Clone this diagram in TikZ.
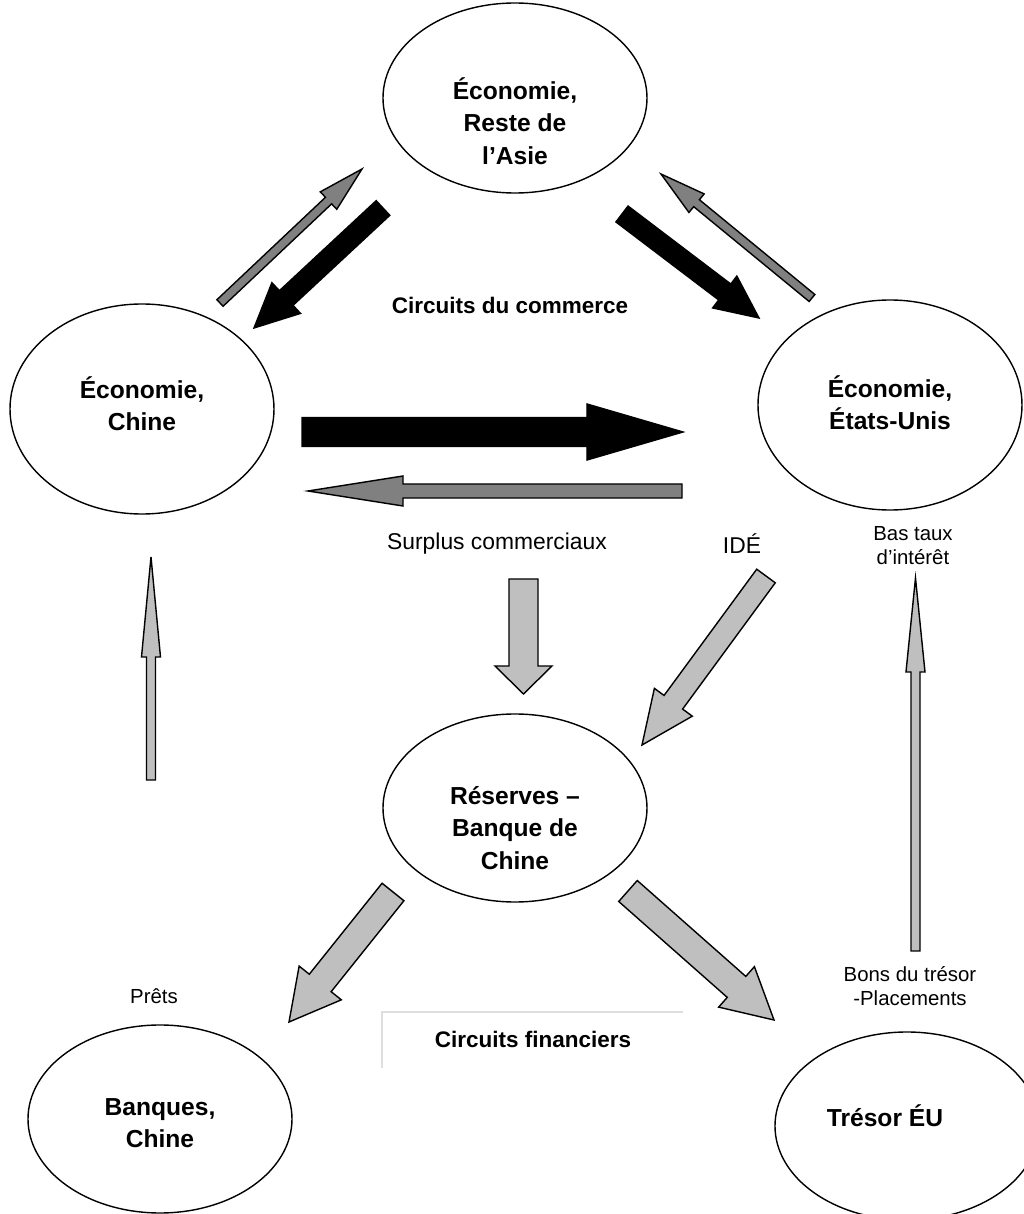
\documentclass[tikz,border=0pt]{standalone}
\usepackage{fontspec}
\setmainfont{Liberation Sans}
\usetikzlibrary{shapes.geometric,calc}

\newcommand{\blockarrow}[6][]{%
  \coordinate (hb) at ($(#3)!#6!(#2)$);
  \filldraw[#1] ($(#2)!#4!90:(#3)$) -- ($(hb)!#4!90:(#3)$) -- ($(hb)!#5!90:(#3)$) -- (#3)
    -- ($(hb)!#5!-90:(#3)$) -- ($(hb)!#4!-90:(#3)$) -- ($(#2)!#4!-90:(#3)$) -- cycle;
}

\begin{document}
\begin{tikzpicture}[
    eco/.style={ellipse, draw, line width=0.4pt, minimum width=2.64cm, minimum height=1.9cm},
    ecotext/.style={align=center, font=\fontsize{7}{9.2}\selectfont\bfseries},
    title/.style={font=\fontsize{6.4}{8}\selectfont\bfseries},
    note/.style={align=center, inner sep=0pt, font=\fontsize{5.8}{6.8}\selectfont},
    dark/.style={fill=black, draw=black, line width=0.4pt},
    mid/.style={fill=black!50, draw=black, line width=0.4pt},
    light/.style={fill=black!25, draw=black, line width=0.4pt},
    boxline/.style={draw=black!13, line width=0.4pt}]
    \useasboundingbox (0,0) rectangle (10.24,12.14);
    \clip (0,0) rectangle (10.24,12.14);

    \node[eco] (asie) at (5.15,11.16) {};
    \node[eco, minimum height=2.1cm] (chine) at (1.42,8.05) {};
    \node[eco, minimum height=2.1cm] (eu) at (8.90,8.09) {};
    \node[eco, minimum height=1.88cm] (reserves) at (5.15,4.06) {};
    \node[eco, minimum height=1.88cm] (banques) at (1.60,0.95) {};
    \node[eco, minimum height=1.88cm] (tresor) at (9.07,0.88) {};

    \node[ecotext] (asietext) at ([yshift=-0.23cm]asie.center) {Économie,\\Reste de\\l’Asie};
    \node[ecotext] (chinetext) at ([yshift=0.05cm]chine.center) {Économie,\\Chine};
    \node[ecotext] (eutext) at ([yshift=0.02cm]eu.center) {Économie,\\États-Unis};
    \node[ecotext] (reservestext) at ([yshift=-0.20cm]reserves.center) {Réserves –\\Banque de\\Chine};
    \node[ecotext] (banquestext) at ([yshift=-0.04cm]banques.center) {Banques,\\Chine};
    \node[ecotext] (tresortext) at ([xshift=-0.22cm,yshift=0.10cm]tresor.center) {Trésor ÉU};

    \node[title] (commerce) at (5.10,9.09) {Circuits du commerce};
    \node[title] (finance) at (5.33,1.75) {Circuits financiers};
    \draw[boxline] (3.82,1.46) |- (6.83,2.02);

    \node[note, font=\fontsize{6.5}{7.5}\selectfont] (surplus) at (4.97,6.70) {Surplus commerciaux};
    \node[note, font=\fontsize{6.5}{7.5}\selectfont] (ide) at (7.42,6.70) {IDÉ};
    \node[note] (taux) at (9.13,6.68) {Bas taux\\d’intérêt};
    \node[note] (prets) at (1.54,2.18) {Prêts};
    \node[note] (bons) at (9.10,2.28) {Bons du trésor\\-Placements};

    \foreach \n/\p/\q in {a2c/{3.83,10.06}/{2.54,8.86}, a2u/{6.22,10.00}/{7.59,8.96},
        c2u/{3.02,7.82}/{6.83,7.82}, c2a/{2.20,9.11}/{3.62,10.45}, u2a/{8.12,9.16}/{6.61,10.40},
        u2c/{6.82,7.23}/{3.08,7.23}, sur/{5.235,6.35}/{5.235,5.20}, ide/{7.66,6.38}/{6.42,4.69},
        r2b/{3.93,3.22}/{2.89,1.92}, r2t/{6.28,3.23}/{7.74,1.94}, b2c/{1.51,4.34}/{1.51,6.57},
        t2u/{9.155,2.63}/{9.155,6.36}}
    {
        \coordinate (\n1) at (\p);
        \coordinate (\n2) at (\q);
    }

    \foreach \n/\s/\w/\l in {a2c/0.10cm/0.21cm/0.44cm, a2u/0.10cm/0.20cm/0.43cm, c2u/0.145cm/0.28cm/0.96cm}
    {
        \blockarrow[dark]{\n1}{\n2}{\s}{\w}{\l}
    }
    \foreach \n/\s/\w/\l in {c2a/0.045cm/0.12cm/0.46cm, u2a/0.045cm/0.12cm/0.46cm, u2c/0.07cm/0.15cm/0.95cm}
    {
        \blockarrow[mid]{\n1}{\n2}{\s}{\w}{\l}
    }
    \foreach \n/\s/\w/\l in {sur/0.145cm/0.285cm/0.28cm, ide/0.115cm/0.235cm/0.53cm,
        r2b/0.14cm/0.27cm/0.5cm, r2t/0.14cm/0.27cm/0.5cm,
        b2c/0.045cm/0.095cm/1.0cm, t2u/0.045cm/0.095cm/0.94cm}
    {
        \blockarrow[light]{\n1}{\n2}{\s}{\w}{\l}
    }
\end{tikzpicture}
\end{document}
